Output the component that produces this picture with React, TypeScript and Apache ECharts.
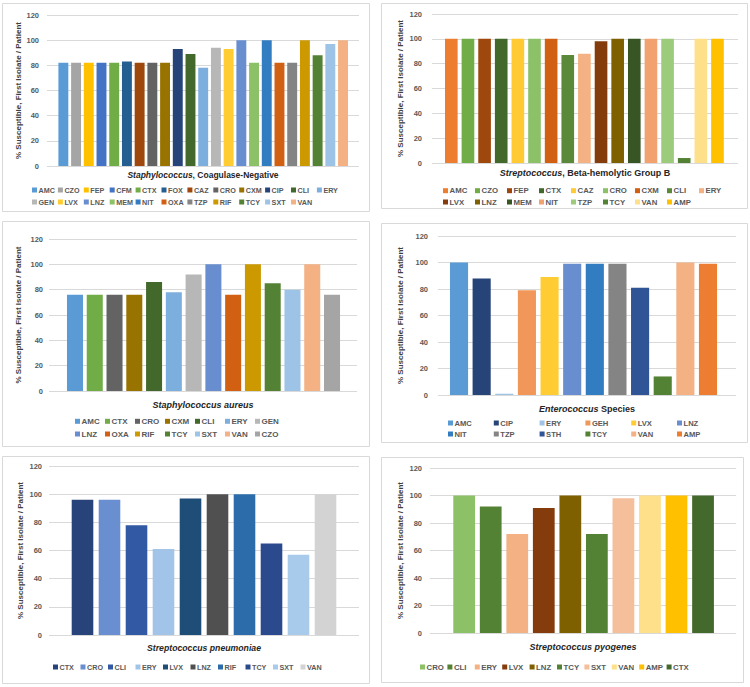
import React, { useEffect, useRef } from "react";
import * as echarts from "echarts";

// ---------- DATA ----------
const cats1 = ["AMC","CZO","FEP","CFM","CTX","FOX","CAZ","CRO","CXM","CIP","CLI","ERY","GEN","LVX","LNZ","MEM","NIT","OXA","TZP","RIF","TCY","SXT","VAN"];
const vals1 = [82,82,82,82,82,83,82,82,82,93,89,78,94,93,100,82,100,82,82,100,88,97,100];
const colors1 = ["#5B9BD5","#A5A5A5","#FFC000","#4472C4","#70AD47","#255E91","#9E480E","#636363","#997300","#264478","#43682B","#7CAFDD","#B7B7B7","#FFCD33","#698ED0","#8CC168","#327DC2","#D26012","#848484","#CC9A00","#548235","#9DC3E6","#F4B183"];

const cats2 = ["AMC","CZO","FEP","CTX","CAZ","CRO","CXM","CLI","ERY","LVX","LNZ","MEM","NIT","TZP","TCY","VAN","AMP"];
const vals2 = [100,100,100,100,100,100,100,87,88,98,100,100,100,100,4,100,100];
const colors2 = ["#ED7D31","#70AD47","#9E480E","#43682B","#FFCA33","#8CC168","#D26012","#5A8A39","#F4B183","#843C0C","#7F6000","#375623","#F1A26F","#9DCB7C","#548235","#FFE08A","#FFC000"];

const cats3 = ["AMC","CTX","CRO","CXM","CLI","ERY","GEN","LNZ","OXA","RIF","TCY","SXT","VAN","CZO"];
const vals3 = [76,76,76,76,86,78,92,100,76,100,85,80,100,76];
const colors3 = ["#5B9BD5","#70AD47","#636363","#997300","#43682B","#7CAFDD","#B7B7B7","#698ED0","#D26012","#CC9A00","#548235","#9DC3E6","#F4B183","#A5A5A5"];

const cats4 = ["AMC","CIP","ERY","GEH","LVX","LNZ","NIT","TZP","STH","TCY","VAN","AMP"];
const vals4 = [100,88,1,79,89,99,99,99,81,14,100,99];
const colors4 = ["#5B9BD5","#264478","#9DC3E6","#F1975A","#FFCD33","#698ED0","#327DC2","#848484","#2F5597","#548235","#F4B183","#ED7D31"];

const cats5 = ["CTX","CRO","CLI","ERY","LVX","LNZ","RIF","TCY","SXT","VAN"];
const vals5 = [96,96,78,61,97,100,100,65,57,100];
const colors5 = ["#27437A","#6A8FD0","#3259A4","#A2C4E8","#1E4D78","#505050","#2C6CAA","#2A4A8D","#A9CBEB","#D3D3D3"];

const cats6 = ["CRO","CLI","ERY","LVX","LNZ","TCY","SXT","VAN","AMP","CTX"];
const vals6 = [100,92,72,91,100,72,98,100,100,100];
const colors6 = ["#8CC168","#548235","#F4B183","#843C0C","#7F6000","#548235","#F5BF9B","#FFE08A","#FFC000","#436A2C"];

const yTicks = { min: 0, max: 120, interval: 20 };
const yName = "% Susceptible, First Isolate / Patient";

// ---------- LAYOUT ----------
const panels = [
  { cats: cats1, vals: vals1, colors: colors1, title: "{i|Staphylococcus}{n|, Coagulase-Negative}", tfs: 8.5,
    box: [2, 3, 367, 208], outer: { left: 47, right: 391, top: 15, bottom: 521 }, inner: { left: 57, right: 400.6 },
    gap: "22%", yNameGap: 25, xNameGap: 4, labMargin: 8,
    lg: { left: 32, y: 190, col: 25.9, rowH: 12, perRow: 12, fs: 7.2 } },
  { cats: cats2, vals: vals2, colors: colors2, title: "{i|Streptococcus}{n|, Beta-hemolytic Group B}", tfs: 9,
    box: [381, 3, 366, 205], outer: { left: 432, right: 12, top: 14, bottom: 524 }, inner: { left: 443, right: 24.2 },
    gap: "24%", yNameGap: 28, xNameGap: 5, labMargin: 10,
    lg: { left: 443, y: 190.7, col: 32, rowH: 11.3, perRow: 9, fs: 7.8 } },
  { cats: cats3, vals: vals3, colors: colors3, title: "{i|Staphylococcus aureus}", tfs: 9,
    box: [2, 221, 367, 225], outer: { left: 49, right: 393, top: 239, bottom: 296 }, inner: { left: 65.1, right: 408.1 },
    gap: "19%", yNameGap: 27, xNameGap: 9, labMargin: 6,
    lg: { left: 75, y: 421.3, col: 30, rowH: 12.7, perRow: 7, fs: 8 } },
  { cats: cats4, vals: vals4, colors: colors4, title: "{i|Enterococcus}{n| Species}", tfs: 9,
    box: [381, 223, 366, 219], outer: { left: 438, right: 14, top: 236, bottom: 292 }, inner: { left: 447.7, right: 30.7 },
    gap: "20%", yNameGap: 34, xNameGap: 9, labMargin: 10,
    lg: { left: 448, y: 423, col: 45.8, rowH: 11, perRow: 6, fs: 7.6 } },
  { cats: cats5, vals: vals5, colors: colors5, title: "{i|Streptococcus pneumoniae}", tfs: 8.7,
    box: [2, 456, 367, 227], outer: { left: 49, right: 391, top: 466, bottom: 52 }, inner: { left: 69, right: 411 },
    gap: "20%", yNameGap: 25, xNameGap: 8, labMargin: 7,
    lg: { left: 53, y: 667, col: 27.5, rowH: 12, perRow: 10, fs: 7.2 } },
  { cats: cats6, vals: vals6, colors: colors6, title: "{i|Streptococcus pyogenes}", tfs: 9,
    box: [381, 457, 362, 225], outer: { left: 430, right: 14, top: 468, bottom: 54 }, inner: { left: 450.9, right: 33.7 },
    gap: "18%", yNameGap: 26, xNameGap: 9, labMargin: 8,
    lg: { left: 420, y: 667, col: 27.4, rowH: 12, perRow: 10, fs: 7.8 } },
];

const FONT = "'Liberation Sans', Arial, sans-serif";
const GRID_COLOR = "#D9D9D9";

function buildOption() {
  const grid: any[] = [];
  const xAxis: any[] = [];
  const yAxis: any[] = [];
  const series: any[] = [];
  const legend: any[] = [];
  const graphic: any[] = [];

  panels.forEach((p, pi) => {
    const og = grid.length;
    grid.push({ left: p.outer.left, right: p.outer.right, top: p.outer.top, bottom: p.outer.bottom, containLabel: false });
    const ig = grid.length;
    grid.push({ left: p.inner.left, right: p.inner.right, top: p.outer.top, bottom: p.outer.bottom, containLabel: false });

    // outer axes: gridlines, tick labels, names
    const oxi = xAxis.length;
    xAxis.push({
      gridIndex: og, type: "category", data: [""],
      axisLine: { show: false }, axisTick: { show: false }, axisLabel: { show: false }, splitLine: { show: false },
      name: p.title, nameLocation: "middle", nameGap: p.xNameGap,
      nameTextStyle: {
        fontFamily: FONT, fontSize: p.tfs, fontWeight: "bold", color: "#262626",
        rich: {
          i: { fontFamily: FONT, fontSize: p.tfs, fontWeight: "bold", fontStyle: "italic", color: "#262626" },
          n: { fontFamily: FONT, fontSize: p.tfs, fontWeight: "bold", color: "#262626" },
        },
      },
    });
    const oyi = yAxis.length;
    yAxis.push({
      gridIndex: og, type: "value", min: yTicks.min, max: yTicks.max, interval: yTicks.interval,
      axisLine: { show: false }, axisTick: { show: false },
      axisLabel: { fontFamily: FONT, fontSize: 7.5, fontWeight: "bold", color: "#595959", margin: p.labMargin },
      splitLine: { show: true, lineStyle: { color: GRID_COLOR, width: 1 } },
      name: yName, nameLocation: "middle", nameGap: p.yNameGap,
      nameTextStyle: { fontFamily: FONT, fontSize: 8, fontWeight: "bold", color: "#404040" },
    });
    series.push({ type: "bar", xAxisIndex: oxi, yAxisIndex: oyi, data: [null], silent: true, name: `__o${pi}` });

    // inner axes: bars
    const ixi = xAxis.length;
    xAxis.push({ gridIndex: ig, type: "category", data: p.cats, show: false });
    const iyi = yAxis.length;
    yAxis.push({ gridIndex: ig, type: "value", min: yTicks.min, max: yTicks.max, interval: yTicks.interval, show: false });

    const iw = 1;
    const lh = 10;
    p.cats.forEach((c, ci) => {
      const nm = `${pi}|${ci}|${c}`;
      series.push({
        type: "bar", name: nm, xAxisIndex: ixi, yAxisIndex: iyi, stack: `p${pi}`,
        barCategoryGap: p.gap,
        itemStyle: { color: p.colors[ci] },
        data: p.cats.map((_, j) => (j === ci ? p.vals[ci] : null)),
      });
      const row = Math.floor(ci / p.lg.perRow);
      const colI = ci % p.lg.perRow;
      legend.push({
        data: [nm],
        left: p.lg.left + colI * p.lg.col - iw - 5,
        top: p.lg.y + row * p.lg.rowH - lh / 2,
        orient: "horizontal", padding: 0, itemGap: 0,
        itemWidth: iw, itemHeight: lh, icon: "rect",
        itemStyle: { color: "rgba(0,0,0,0)", opacity: 0 },
        selectedMode: false,
        formatter: (n: string) => `{m|}{t|${n.split("|")[2]}}`,
        textStyle: {
          fontFamily: FONT, fontSize: p.lg.fs, fontWeight: "bold", color: "#595959", lineHeight: lh,
          rich: {
            m: { width: 5, height: 5, backgroundColor: p.colors[ci] },
            t: { fontFamily: FONT, fontSize: p.lg.fs, fontWeight: "bold", color: "#595959", lineHeight: lh, padding: [0, 0, 0, 1.5] },
          },
        },
      });
    });

    graphic.push({
      type: "rect", z: -10, silent: true,
      shape: { x: p.box[0] + 0.5, y: p.box[1] + 0.5, width: p.box[2], height: p.box[3] },
      style: { fill: "#FFFFFF", stroke: "#D9D9D9", lineWidth: 1 },
    });
  });

  return {
    animation: false,
    backgroundColor: "#FFFFFF",
    grid, xAxis, yAxis, series, legend, graphic,
  };
}

export default function App() {
  const ref = useRef<HTMLDivElement>(null);
  useEffect(() => {
    if (!ref.current) return;
    const chart = echarts.init(ref.current, null, { renderer: "svg" });
    chart.setOption(buildOption() as any);
    return () => chart.dispose();
  }, []);
  return (
    <div
      ref={ref}
      style={{ position: "fixed", left: 0, top: 0, width: 750, height: 687, background: "#fff" }}
    />
  );
}
